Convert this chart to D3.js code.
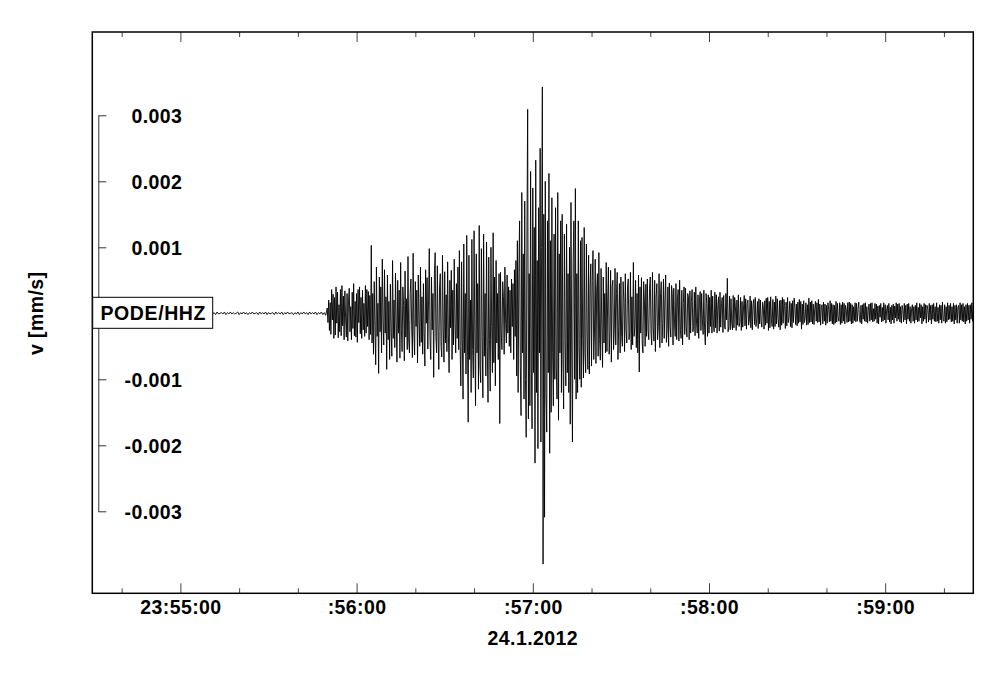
<!DOCTYPE html>
<html>
<head>
<meta charset="utf-8">
<script src="https://cdn.jsdelivr.net/npm/d3@7"></script>
<style>
  html, body { margin: 0; padding: 0; background: #fff; }
  svg { display: block; }
  text { font-family: "Liberation Sans", Arial, Helvetica, sans-serif; font-weight: bold; fill: #000; }
</style>
</head>
<body>
<svg id="chart" width="1000" height="677"></svg>
<script>
// ---- DATA (velocity samples in units of 1e-5 mm/s, trace starts 24.1.2012 23:54:30 UTC) ----
const stationLabel = "PODE/HHZ";
const yAxisTitle = "v [mm/s]";
const dateLabel = "24.1.2012";
const xTickLabels = ["23:55:00", ":56:00", ":57:00", ":58:00", ":59:00"];
const xTickMinutes = [55, 56, 57, 58, 59];
const yTickValues = [0.003, 0.002, 0.001, -0.001, -0.002, -0.003];
const yTickLabels = ["0.003", "0.002", "0.001", "-0.001", "-0.002", "-0.003"];
const valueUnit = 1e-5;
const preEventStepSec = 0.5;   // samples before the P onset
const eventStepSec = 0.25;     // samples from the P onset on

// noise before the event (0 s .. 79.5 s)
const preEvent = [
  1,-1,2,-2,1,0,-1,2,-1,1, -2,1,-1,2,-2,1,0,-1,1,-2, 2,-1,1,-1,2,-2,1,-1,0,1,
  -1,2,-2,1,-1,1,-2,2,-1,0, 1,-2,1,-1,2,-1,1,-2,2,-1, 0,1,-1,2,-2,1,-1,1,-1,2,
  -2,1,0,-1,2,-1,1,-2,1,-1, 2,-2,1,-1,1,0,-1,2,-2,1, -1,2,-1,1,-2,2,-1,0,1,-1,
  2,-2,1,-1,2,-1,1,-1,0,2, -2,1,-1,2,-1,1,-2,1,-1,2, -1,0,1,-2,2,-1,1,-1,2,-2,
  1,-1,0,1,-2,2,-1,1,-1,2, -2,1,-1,2,-1,0,1,-2,1,-1, 2,-2,1,-1,2,-1,1,-2,2,-1,
  1,-1,2,-2,1,-1,2,-2,1,-3
];
// P-wave (80 s .. 94.75 s)
const pWave = [
  8,-14,20,-26,16,-32,36,-10,29,-38, 24,-33,40,-15,32,-37,13,-28,36,-34,
  42,-19,26,-40,34,-7,-36,30,-42,20, 38,-28,10,-40,32,-23,45,-34,18,-36,
  30,-44,36,-14,40,-31,24,-38,35,-25, 15,-35,42,-30,36,-20,33,-40,27,-32
];
// first S arrivals (95 s .. 124.75 s)
const sWave1 = [
  103,-45,30,-62,48,-20,-78,70,-35,15, -91,55,-28,40,-60,82,-12,-48,66,-30,
  25,-85,58,-40,18,-70,44,-22,-65,80, -38,20,-52,61,-15,-74,50,-30,35,-68,
  77,-25,-58,40,12,-72,64,-36,22,-55, 86,-42,-60,30,52,-18,-67,91,-28,-63,
  48,-20,35,-75,58,-10,-50,70,-44,25, -62,45,-30,-80,66,-15,54,-54,20,98,
  -40,-70,55,-25,30,-97,60,92,-35,-60, 72,-28,-85,40,60,-50,-66,88,-20,-74,
  63,-45,28,-58,78,-30,-90,50,-22,65, -70,35,-48,82,-15,-60,45,-38,70,-55
];
// growing S phase (125 s .. 144.75 s)
const sWave2 = [
  95,-50,-110,78,-40,-130,105,-60,30,-92, 118,-45,-165,88,-70,20,-120,112,-55,-98,
  125,-30,-140,90,-60,45,-115,133,-80,-105, 98,-35,-128,120,-65,30,-95,108,-50,-135,
  85,-40,-118,100,-20,-90,122,-75,55,-110, 80,-45,30,-70,60,-167,62,-30,-55,48,
  25,-62,70,-15,-45,58,-30,40,-50,35, -60,52,-20,45,-70,66,-35,80,-95,110
];
// strongest phase (145 s .. 159.75 s)
const peakPhase = [
  -120,60,140,-80,-155,183,-60,90,-130,170, -100,-188,120,309,-160,60,-140,215,-80,-175,
  190,-90,130,-227,232,-120,80,-205,160,-60, 250,-195,100,343,-380,150,-309,200,-120,-180,
  140,-90,212,-212,110,-150,175,-60,-140,120, -100,160,-80,-130,183,-162,90,-60,140,-120
];
// early decay (160 s .. 189.75 s)
const decay1 = [
  150,-70,-145,120,-40,-110,135,-90,60,-120, 100,-168,168,-60,-195,80,140,-100,189,-130,
  60,-120,140,-50,-100,110,-112,115,-40,-98, 130,-60,-90,105,-30,-85,88,-92,40,75,
  -80,50,95,-70,-30,82,-76,35,60,-65, 92,-40,-71,68,-20,-82,55,-45,30,-60,
  77,-58,20,70,-62,-30,65,-74,40,50, -55,-25,68,-48,30,62,-70,-20,45,-60,
  55,-35,-50,48,20,-58,60,-25,-45,40, 52,-40,-30,62,-55,25,-48,77,-35,-20,
  50,-52,30,-60,58,-89,40,-30,54,-45, -60,48,20,-50,44,-35,52,-25,-40,38
];
// late decay (190 s .. 229.75 s)
const decay2 = [
  55,-30,-48,62,-20,-42,50,-58,25,45, -40,-20,60,-52,30,48,-45,-15,52,-38,
  20,58,-44,-25,40,-50,46,-20,-36,42, 30,-48,38,-15,-35,45,-40,20,36,-42,
  50,-25,-38,35,-48,15,40,-32,38,-20, -36,30,25,-40,34,-30,18,36,-28,-20,
  32,-34,40,-15,-30,28,-38,20,33,-26, 30,-10,-32,35,-25,-48,30,15,-35,28,
  -30,24,-20,35,-30,26,-15,-28,32,-22, 28,-30,12,25,-27,32,-21,15,24,-29,
  27,-18,-24,30,-10,53,-28,-20,26,-25, 22,-15,-25,27,-22,24,10,-26,20,-18,
  28,-20,-14,24,-26,18,-21,8,27,-19, 22,-24,15,20,-18,-10,26,-22,19,-25,
  12,21,-17,24,-20,-8,18,-23,22,-16, 20,-12,-21,17,10,-24,19,-18,23,-15
];
// coda (230 s .. 300 s)
const coda = [
  24,-26,18,-22,25,-10,-20,21,-24,17, -20,26,-16,22,-8,-21,19,-25,20,-18,
  24,-15,21,12,-23,17,-19,24,-14,-6, 18,-20,15,-22,19,-14,23,9,-17,14,
  -19,17,-15,21,-13,18,-24,14,-17,19, -14,-7,16,-18,13,-17,23,-14,17,-13,
  19,-16,14,-17,7,18,-12,16,-14,21, -13,14,-18,9,13,-16,17,-12,14,-18,
  12,-15,16,6,-13,19,-12,15,-16,13, -17,12,-15,18,-13,15,-7,-12,16,-17,
  13,-15,17,-12,15,-16,12,5,-14,16, -13,17,-12,15,-16,13,-15,10,-11,16,
  -13,15,-12,6,17,-10,-14,12,-16,13, -9,15,-12,16,-13,10,-15,4,14,-12,
  15,-10,16,-13,7,-12,15,-9,14,-15, 11,-16,12,-6,15,-13,9,-12,16,-10,
  13,-15,5,12,-10,15,-13,9,-16,12, -10,14,-15,11,-7,16,-12,14,-9,15,
  -13,10,-15,12,6,-13,15,-10,12,-16, 14,-9,15,-12,10,-15,7,13,-12,10,
  -15,12,-10,16,-13,9,-12,15,-7,13, -16,10,-12,15,-9,13,-15,12,6,-13,
  15,-10,12,-16,13,-9,15,-12,10,-13, 16,-12,9,-15,13,-10,12,-15,17,-9,
  -12,13,-15,10,-13,16,-10,12,-9,15, -13,10,-12,15,-16,12,-10,13,-15,9,
  12,-15,16,-10,13,-12,15,-13,10,-16, 13,-12,15,-10,12,-15,13,-9,16,-12,
  10
];

// ---- LAYOUT ----
const svg = d3.select("#chart");
const frame = { left: 92.3, right: 973.3, top: 32, bottom: 593.3 };
const t0 = Date.UTC(2012, 0, 24, 23, 54, 30);
const tStart = new Date(t0);
const tEnd = new Date(t0 + 300 * 1000);

const segments = [
  { values: preEvent, step: preEventStepSec },
  { values: [].concat(pWave, sWave1, sWave2, peakPhase, decay1, decay2, coda), step: eventStepSec }
];
const samples = [];
let tCursor = 0;
segments.forEach(seg => {
  seg.values.forEach(v => {
    samples.push({ t: new Date(t0 + tCursor * 1000), v: v * valueUnit });
    tCursor += seg.step;
  });
});

const x = d3.scaleUtc().domain([tStart, tEnd]).range([frame.left, frame.right]);
const y = d3.scaleLinear().domain([-0.003, 0.003]).range([511.3, 115.3]);

const majorTicks = xTickMinutes.map(m => new Date(Date.UTC(2012, 0, 24, 23, m, 0)));
const minorTicks = d3.utcSecond.every(20).range(tStart, tEnd)
  .filter(d => d.getUTCSeconds() !== 0);

// clip
svg.append("clipPath").attr("id", "plotclip").append("rect")
  .attr("x", frame.left).attr("y", frame.top)
  .attr("width", frame.right - frame.left).attr("height", frame.bottom - frame.top);

// trace
const line = d3.line().x(d => x(d.t)).y(d => y(d.v));
svg.append("path")
  .datum(samples)
  .attr("clip-path", "url(#plotclip)")
  .attr("fill", "none")
  .attr("stroke", "#000")
  .attr("stroke-width", 0.9)
  .attr("stroke-linejoin", "miter")
  .attr("d", line);

// x axes: ticks inward, bottom & top
function styleTicks(g) {
  g.select(".domain").remove();
  g.selectAll(".tick line").attr("stroke", "#444").attr("stroke-width", 1);
}
const labelMap = new Map(majorTicks.map((d, i) => [+d, xTickLabels[i]]));

svg.append("g")
  .attr("transform", `translate(0,${frame.bottom})`)
  .call(d3.axisBottom(x).tickValues(majorTicks).tickSize(-10).tickSizeOuter(0)
    .tickFormat(d => labelMap.get(+d)))
  .call(styleTicks)
  .call(g => g.selectAll(".tick text")
    .attr("y", 21).attr("dy", 0)
    .style("font-size", "19.5px").style("letter-spacing", "0.4px")
    .attr("font-family", null));

svg.append("g")
  .attr("transform", `translate(0,${frame.bottom})`)
  .call(d3.axisBottom(x).tickValues(minorTicks).tickSize(-5).tickFormat(""))
  .call(styleTicks);

svg.append("g")
  .attr("transform", `translate(0,${frame.top})`)
  .call(d3.axisTop(x).tickValues(majorTicks).tickSize(-10).tickFormat(""))
  .call(styleTicks);

svg.append("g")
  .attr("transform", `translate(0,${frame.top})`)
  .call(d3.axisTop(x).tickValues(minorTicks).tickSize(-5).tickFormat(""))
  .call(styleTicks);

// frame
svg.append("rect")
  .attr("x", frame.left).attr("y", frame.top)
  .attr("width", frame.right - frame.left).attr("height", frame.bottom - frame.top)
  .attr("fill", "none").attr("stroke", "#000").attr("stroke-width", 1.5);

// y axis bracket
const yLabelMap = new Map(yTickValues.map((d, i) => [d, yTickLabels[i]]));
svg.append("g")
  .attr("transform", "translate(98.3,0)")
  .call(d3.axisRight(y).tickValues(yTickValues).tickSize(8).tickSizeOuter(0)
    .tickFormat(d => yLabelMap.get(d)))
  .call(g => g.select(".domain").attr("stroke", "#333").attr("stroke-width", 1))
  .call(g => g.selectAll(".tick line").attr("stroke", "#333").attr("stroke-width", 1))
  .call(g => g.selectAll(".tick text")
    .attr("x", 84).attr("text-anchor", "end").attr("dy", "0.36em")
    .style("font-size", "19.5px").style("letter-spacing", "0.4px")
    .attr("font-family", null));

// station label box
const boxG = svg.append("g");
boxG.append("rect")
  .attr("x", 92.7).attr("y", y(0) - 16)
  .attr("width", 120).attr("height", 31)
  .attr("fill", "#fff").attr("stroke", "#000").attr("stroke-width", 1);
boxG.append("text")
  .attr("x", 100.5).attr("y", y(0) + 7)
  .style("font-size", "19.5px").style("letter-spacing", "0.6px")
  .text(stationLabel);

// titles
svg.append("text")
  .attr("x", (frame.left + frame.right) / 2).attr("y", 645)
  .attr("text-anchor", "middle")
  .style("font-size", "19.5px").style("letter-spacing", "0.4px")
  .text(dateLabel);

svg.append("text")
  .attr("transform", `translate(43,${y(0)}) rotate(-90)`)
  .attr("text-anchor", "middle")
  .style("font-size", "19.5px").style("letter-spacing", "0.4px")
  .text(yAxisTitle);
</script>
</body>
</html>
